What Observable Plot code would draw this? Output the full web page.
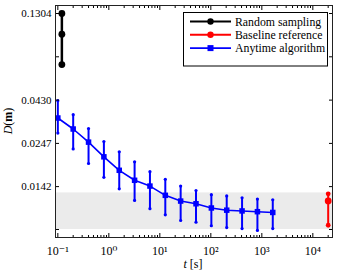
<!DOCTYPE html>
<html><head><meta charset="utf-8">
<script src="https://cdn.jsdelivr.net/npm/d3@7"></script>
<script src="https://cdn.jsdelivr.net/npm/@observablehq/plot@0.6"></script>
<style>body{margin:0;background:#fff;overflow:hidden} svg text{font-family:"Liberation Serif","Times New Roman","DejaVu Serif",serif !important;}</style>
</head><body><div id="chart"></div>
<script>
// ---- data ----
const tAnytime  = [0.1,0.2,0.4,0.8,1.6,3.2,6.4,12.8,25.6,51.2,102.4,204.8,409.6,819.2,1638.4];
const dAnytime  = [0.0342,0.0297,0.0251,0.0208,0.0175,0.0154,0.0143,0.0127,0.0118,0.0114,0.0108,0.0105,0.0104,0.0103,0.0102];
const loAnytime = [0.0282,0.0230,0.0191,0.0160,0.0138,0.0119,0.0107,0.0099,0.0092,0.0090,0.0086,0.0084,0.0083,0.0081,0.0083];
const hiAnytime = [0.0427,0.0357,0.0299,0.0253,0.0222,0.0195,0.0172,0.0156,0.0143,0.0135,0.0128,0.0126,0.0123,0.0121,0.0120];
const tRandom = [0.12,0.12,0.12];
const dRandom = [0.0678,0.1000,0.1304];
const tBaseline = [20000];
const dBaseline = [0.01182];
const loBaseline = [0.00866];
const hiBaseline = [0.01295];
const bandLo = 0.0082, bandHi = 0.0131;
const yTicks = [0.0082,0.0142,0.0247,0.0430,0.0749,0.1304];
const yTickLabels = ["0.0082","0.0142","0.0247","0.0430","0.0749","0.1304"];
const xTicks = [0.1,1,10,100,1000,10000];
const xTickLabels = ["10⁻¹","10⁰","10¹","10²","10³","10⁴"];
const legendLabels = ["Random sampling","Baseline reference","Anytime algorithm"];
const legendColors = ["black","red","blue"];

// ---- derived tables ----
const xDomain = [0.09, 24300], yDomain = [0.0074, 0.1445];
const anytime = tAnytime.map((t,i)=>({t, d:dAnytime[i], lo:loAnytime[i], hi:hiAnytime[i]}));
const random = tRandom.map((t,i)=>({t, d:dRandom[i]}));
const baseline = tBaseline.map((t,i)=>({t, d:dBaseline[i], lo:loBaseline[i], hi:hiBaseline[i]}));
const xMinor = [];
for (let e=-2; e<=4; e++) for (let m=2; m<=9; m++) { const v=m*Math.pow(10,e); if (v>xDomain[0] && v<xDomain[1]) xMinor.push(v); }

const font = "'Liberation Serif','Times New Roman','DejaVu Serif',serif";
const plot = Plot.plot({
  width:338, height:272, marginLeft:55, marginRight:6, marginTop:5, marginBottom:35,
  style:{fontFamily:font, fontSize:"11px", background:"white", color:"black"},
  x:{type:"log", domain:xDomain, label:null},
  y:{type:"log", domain:yDomain, label:null},
  marks:[
    Plot.rect([{lo:bandLo, hi:bandHi}], {x1:xDomain[0], x2:xDomain[1], y1:"lo", y2:"hi", fill:"#ebebeb"}),
    // anytime
    Plot.ruleX(anytime, {x:"t", y1:"lo", y2:"hi", stroke:"blue", strokeWidth:2}),
    Plot.dot(anytime, {x:"t", y:"lo", r:1.6, fill:"blue"}),
    Plot.dot(anytime, {x:"t", y:"hi", r:1.6, fill:"blue"}),
    Plot.line(anytime, {x:"t", y:"d", stroke:"blue", strokeWidth:1.6}),
    Plot.dot(anytime, {x:"t", y:"d", symbol:"square", r:3.1, fill:"blue"}),
    // random
    Plot.line(random, {x:"t", y:"d", stroke:"black", strokeWidth:2.5}),
    Plot.dot(random, {x:"t", y:"d", r:3.4, fill:"black"}),
    // baseline
    Plot.ruleX(baseline, {x:"t", y1:"lo", y2:"hi", stroke:"red", strokeWidth:2}),
    Plot.dot(baseline, {x:"t", y:"lo", r:2.4, fill:"red"}),
    Plot.dot(baseline, {x:"t", y:"hi", r:2.4, fill:"red"}),
    Plot.dot(baseline, {x:"t", y:"d", r:3.4, fill:"red"}),
    // axes
    Plot.axisX(xTicks, {tickSize:0, tickPadding:9, tickFormat:d=>xTickLabels[xTicks.indexOf(d)], fontSize:12}),
    Plot.axisX(xTicks, {tickSize:-4, tickFormat:()=>""}),
    Plot.axisX(xMinor, {tickSize:-2, tickFormat:()=>""}),
    Plot.axisX(xTicks, {anchor:"top", tickSize:-4, tickFormat:()=>""}),
    Plot.axisX(xMinor, {anchor:"top", tickSize:-2, tickFormat:()=>""}),
    Plot.axisY(yTicks, {tickSize:0, tickPadding:4, tickFormat:d=>yTickLabels[yTicks.indexOf(d)], fontSize:11}),
    Plot.axisY(yTicks, {tickSize:-4, tickFormat:()=>""}),
    Plot.axisY(yTicks, {anchor:"right", tickSize:-4, tickFormat:()=>""}),
    Plot.frame({stroke:"#222", strokeWidth:1})
  ]
});
document.getElementById("chart").appendChild(plot);

// ---- labels and legend ----
const svg = d3.select(plot);
const yl = svg.append("text").attr("transform","translate(12,121) rotate(-90)")
  .attr("text-anchor","middle").attr("font-size",12).attr("fill","black");
yl.append("tspan").attr("font-style","italic").text("D");
yl.append("tspan").text("(");
yl.append("tspan").attr("font-weight","bold").text("m");
yl.append("tspan").text(")");
const xl = svg.append("text").attr("x",193).attr("y",268)
  .attr("text-anchor","middle").attr("font-size",12).attr("fill","black");
xl.append("tspan").attr("font-style","italic").text("t");
xl.append("tspan").text(" [s]");

const lg = svg.append("g");
lg.append("rect").attr("x",183.5).attr("y",12.5).attr("width",144).attr("height",53.5)
  .attr("fill","white").attr("stroke","black").attr("stroke-width",1);
legendLabels.forEach((lab,i)=>{
  const y = 21.5 + i*13.3;
  lg.append("line").attr("x1",190).attr("x2",231).attr("y1",y).attr("y2",y)
    .attr("stroke",legendColors[i]).attr("stroke-width", i===2?1.6:2);
  if (i<2) lg.append("circle").attr("cx",210.5).attr("cy",y).attr("r",3.2).attr("fill",legendColors[i]);
  else lg.append("rect").attr("x",207.5).attr("y",y-3).attr("width",6).attr("height",6).attr("fill",legendColors[i]);
  lg.append("text").attr("x",235).attr("y",y).attr("dy","0.35em").attr("text-anchor","start")
    .attr("font-size",11.8).attr("fill","black").text(lab);
});
</script>
</body></html>
